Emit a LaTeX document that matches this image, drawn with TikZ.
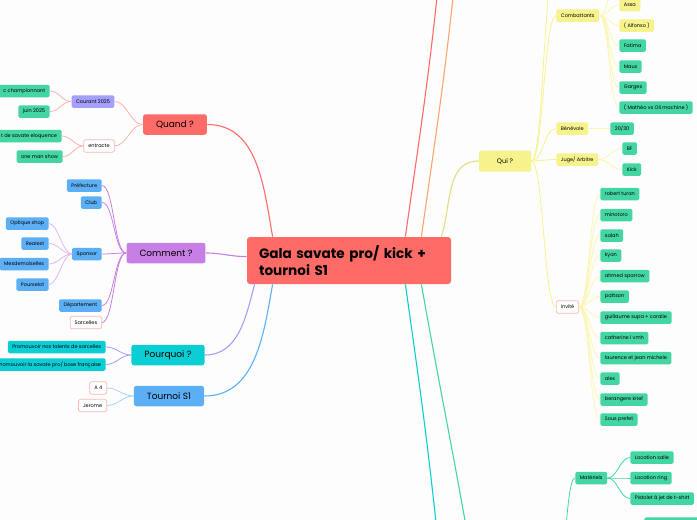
\documentclass[tikz,border=0pt]{standalone}
\usepackage{fontspec}
\setmainfont{Poppins}
\usetikzlibrary{positioning}
\definecolor{bgc}{HTML}{FDFDFD}
\definecolor{redc}{HTML}{FF6B66}
\definecolor{redl}{HTML}{FFB3AE}
\definecolor{lavc}{HTML}{A59EFB}
\definecolor{mint}{HTML}{44D6A2}
\definecolor{purc}{HTML}{C77FE6}
\definecolor{purl}{HTML}{E2B8F2}
\definecolor{bluec}{HTML}{5CAFF5}
\definecolor{bluel}{HTML}{A9D3FA}
\definecolor{tealc}{HTML}{0BCED5}
\definecolor{yelc}{HTML}{F7F38C}
\definecolor{yell}{HTML}{FAF6B0}
\definecolor{oranc}{HTML}{FFA56E}
\definecolor{pinkb}{HTML}{F9B9B4}
\begin{document}
\begin{tikzpicture}[x=1pt,y=-1pt,font=\fontsize{5}{6}\selectfont,line width=0.8pt,
  leaf/.style={rounded corners=1.5pt,inner xsep=4.5pt,inner ysep=0pt,minimum height=12.5pt},
  mintbox/.style={leaf,fill=mint},
  bluebox/.style={leaf,fill=bluec},
  yelbox/.style={leaf,fill=yelc},
  whitebox/.style={leaf,fill=white,draw=pinkb,line width=0.7pt},
  branch/.style={rounded corners=2.5pt,minimum height=20.5pt,inner xsep=13pt,
                 font=\fontsize{9}{10}\selectfont},
  rlink/.style={out=0,in=180,max distance=#1},
  rlink/.default=12pt,
  llink/.style={out=180,in=0,max distance=#1},
  llink/.default=12pt]
  \useasboundingbox[fill=bgc] (0,0) rectangle (697,520);

  % centre
  \node[fill=redc,rounded corners=3pt,minimum width=204pt,minimum height=47pt,
        text width=180pt,align=left,font=\fontsize{13.6}{17}\selectfont\bfseries]
        (gala) at (349,260.5) {Gala savate pro/ kick +\\ tournoi S1};

  % left branches
  \node[branch,fill=redc] (quand) at (175,124.5) {Quand ?};
  \node[branch,fill=purc] (comment) at (166,253) {Comment ?};
  \node[branch,fill=tealc] (pourquoi) at (168,355) {Pourquoi ?};
  \node[branch,fill=bluec] (tournoi) at (169,396) {Tournoi S1};

  \node[leaf,fill=lavc] (courant) at (93,101.5) {Courant 2025};
  \node[whitebox] (entracte) at (99,146) {entracte};
  \node[mintbox,anchor=east] (champ) at (50,91) {c championnant};
  \node[mintbox,anchor=east] (juin) at (50,111.5) {juin 2025};
  \node[mintbox,anchor=east] (eloq) at (62,136) {t de savate eloquence};
  \node[mintbox,anchor=east] (oneman) at (63,156.5) {one man show};

  \node[bluebox,anchor=east] (prefecture) at (102,185.5) {Préfecture};
  \node[bluebox,anchor=east] (club) at (102,202.5) {Club};
  \node[bluebox,anchor=east] (sponsor) at (102,254) {Sponsor};
  \node[bluebox,anchor=east] (departement) at (102,305.5) {Département};
  \node[whitebox,anchor=east] (sarcelles) at (102,322.5) {Sarcelles};
  \node[bluebox,anchor=east] (optique) at (49,223.5) {Optique shop};
  \node[bluebox,anchor=east] (realest) at (49,243.5) {Realest};
  \node[bluebox,anchor=east] (mesdem) at (49,264) {Mesdemoiselles};
  \node[bluebox,anchor=east] (pourselot) at (49,284.5) {Pourselot};

  \node[leaf,fill=tealc,anchor=east] (promoA) at (106,347) {Promouvoir nos talents de sarcelles};
  \node[leaf,fill=tealc,anchor=east] (promoB) at (106,364.5) {Promouvoir la savate pro/ boxe française};
  \node[whitebox,anchor=east] (afour) at (107,388) {A 4};
  \node[whitebox,anchor=east] (jerome) at (107,405.5) {Jerome};

  % right side
  \node[leaf,fill=yelc,minimum width=52pt,minimum height=21pt,
        font=\fontsize{6.5}{7}\selectfont] (qui) at (505,161) {Qui ?};
  \node[yelbox,anchor=west] (combat) at (556,15.5) {Combattants};
  \node[yelbox,anchor=west] (benevole) at (556,128.5) {Bénévole};
  \node[yelbox,anchor=west] (juge) at (556,159.5) {Juge/ Arbitre};
  \node[whitebox,anchor=west] (invite) at (556,307) {Invité};

  \node[yelbox,anchor=west] (assa) at (619,5) {Assa};
  \node[yelbox,anchor=west] (alfonso) at (619,25.5) {( Alfonso )};
  \node[mintbox,anchor=west] (fatima) at (619,45.5) {Fatima};
  \node[mintbox,anchor=west] (maux) at (619,66.5) {Maux};
  \node[mintbox,anchor=west] (garges) at (619,87.5) {Garges};
  \node[mintbox,anchor=west] (matheo) at (619,107.5) {( Mathéo vs Oli machine )};
  \node[mintbox,anchor=west] (vingt) at (610,128.5) {20/30};
  \node[mintbox,anchor=west] (bf) at (622,148.5) {BF};
  \node[mintbox,anchor=west] (kick) at (622,169.5) {Kick};

  \node[mintbox,anchor=west] (g1) at (600,194) {robert turan};
  \node[mintbox,anchor=west] (g2) at (600,215) {minotoro};
  \node[mintbox,anchor=west] (g3) at (600,235.5) {salah};
  \node[mintbox,anchor=west] (g4) at (600,255.5) {kyan};
  \node[mintbox,anchor=west] (g5) at (600,276) {ahmed sparrow};
  \node[mintbox,anchor=west] (g6) at (600,296.5) {pattson};
  \node[mintbox,anchor=west] (g7) at (600,317.5) {guillaume supa + coralie};
  \node[mintbox,anchor=west] (g8) at (600,338) {catherine l vmh};
  \node[mintbox,anchor=west] (g9) at (600,358) {laurence et jean michele};
  \node[mintbox,anchor=west] (g10) at (600,378.5) {alex};
  \node[mintbox,anchor=west] (g11) at (600,399.5) {berangere krief};
  \node[mintbox,anchor=west] (g12) at (600,419.5) {Sous prefet};

  \node[mintbox,anchor=west] (materiels) at (575,478) {Matériels};
  \node[mintbox,anchor=west] (salle) at (630,457.5) {Location salle};
  \node[mintbox,anchor=west] (ring) at (630,478) {Location ring};
  \node[mintbox,anchor=west] (pistolet) at (630,498.5) {Pistolet à jet de t-shirt};
  \node[mintbox,anchor=north west,minimum width=60pt] (bottom) at (644,517) {};

  % ends off the page
  \coordinate (upA) at (438,-12);
  \coordinate (upB) at (454,-12);
  \coordinate (dnA) at (437,532);
  \coordinate (dnB) at (467,532);
  \coordinate (quitop) at (556,-40);
  \coordinate (combtop) at (619,-25);
  \coordinate (greenpar) at (555,600);

  % main branches
  \draw[redc,line width=1.1pt] ([xshift=26pt]gala.north west) to[out=100,in=0] (quand.east);
  \draw[purc,line width=1.1pt] ([yshift=-20pt]gala.north west) to[out=180,in=0] (comment.east);
  \draw[lavc,line width=1.1pt] ([xshift=8pt]gala.south west) to[out=-105,in=0] (pourquoi.east);
  \draw[bluec,line width=1.1pt] ([xshift=26pt]gala.south west) to[out=-100,in=0] (tournoi.east);
  \draw[yelc!90!black!95,line width=1.1pt] ([xshift=-10pt]gala.north east) to[out=72,in=180] (qui.west);
  \draw[redc,line width=1.1pt] ([xshift=-46pt]gala.north east) to[out=82,in=-96] (upA);
  \draw[oranc,line width=1.1pt] ([xshift=-30pt]gala.north east) to[out=82,in=-96] (upB);
  \draw[tealc,line width=1.1pt] ([xshift=-46pt]gala.south east) to[out=-82,in=96] (dnA);
  \draw[mint,line width=1.1pt] ([xshift=-30pt]gala.south east) to[out=-80,in=100] (dnB);

  % Quand
  \draw[redl] (quand.west) to[llink] (courant.east);
  \draw[redl] (quand.west) to[llink] (entracte.east);
  \draw[redl] (courant.west) to[llink=9pt] (champ.east);
  \draw[redl] (courant.west) to[llink=9pt] (juin.east);
  \draw[redl] (entracte.west) to[llink=9pt] (eloq.east);
  \draw[redl] (entracte.west) to[llink=9pt] (oneman.east);

  % Comment
  \foreach \n in {prefecture,club,sponsor,departement,sarcelles}
    \draw[purc] (comment.west) to[llink] (\n.east);
  \foreach \n in {optique,realest,mesdem,pourselot}
    \draw[purl] (sponsor.west) to[llink=9pt] (\n.east);

  % Pourquoi, Tournoi
  \draw[lavc] (pourquoi.west) to[llink] (promoA.east);
  \draw[lavc] (pourquoi.west) to[llink] (promoB.east);
  \draw[bluel] (tournoi.west) to[llink] (afour.east);
  \draw[bluel] (tournoi.west) to[llink] (jerome.east);

  % Qui
  \foreach \n in {combat,benevole,juge,invite}
    \draw[yelc] (qui.east) to[rlink] (\n.west);
  \draw[yelc] (qui.east) to[rlink] (quitop);
  \foreach \n in {assa,alfonso,fatima,maux,garges,matheo}
    \draw[yell] (combat.east) to[rlink=10pt] (\n.west);
  \draw[yell] (combat.east) to[rlink=10pt] (combtop);
  \draw[yell] (benevole.east) to[rlink=10pt] (vingt.west);
  \draw[yell] (juge.east) to[rlink=10pt] (bf.west);
  \draw[yell] (juge.east) to[rlink=10pt] (kick.west);
  \foreach \n in {g1,g2,g3,g4,g5,g6,g7,g8,g9,g10,g11,g12}
    \draw[yell] (invite.east) to[rlink=10pt] (\n.west);

  % Materiels
  \draw[mint] (greenpar) to[rlink=10pt] (materiels.west);
  \draw[mint] (greenpar) to[rlink=10pt] (bottom.west);
  \foreach \n in {salle,ring,pistolet}
    \draw[mint] (materiels.east) to[rlink=10pt] (\n.west);
\end{tikzpicture}
\end{document}
